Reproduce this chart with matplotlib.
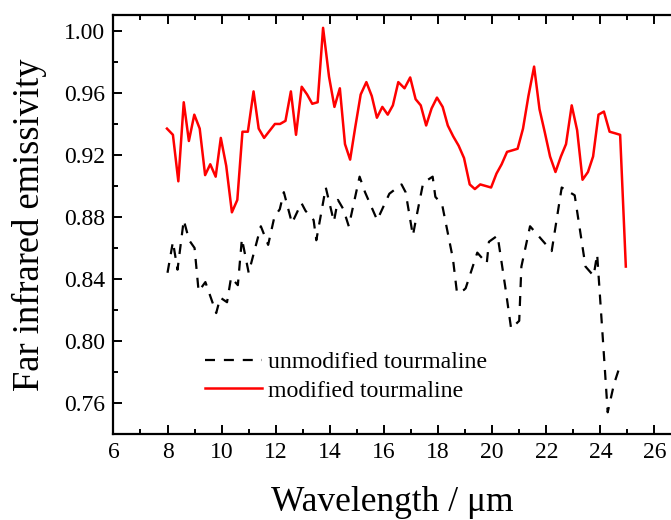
import matplotlib
matplotlib.use("Agg")
import matplotlib.pyplot as plt
from matplotlib.ticker import MultipleLocator, FormatStrFormatter

plt.rcParams['font.family'] = ['Liberation Serif', 'DejaVu Serif']

# modified tourmaline (red solid)
mod_x = [7.98, 8.20, 8.40, 8.60, 8.79, 8.99, 9.19, 9.39, 9.58, 9.78, 9.97, 10.17,
         10.38, 10.58, 10.77, 10.97, 11.18, 11.37, 11.57, 11.77, 11.97, 12.16, 12.36,
         12.56, 12.75, 12.96, 13.16, 13.35, 13.55, 13.75, 13.97, 14.17, 14.37, 14.56,
         14.75, 14.94, 15.14, 15.35, 15.55, 15.74, 15.94, 16.14, 16.33, 16.53, 16.76,
         16.97, 17.17, 17.36, 17.56, 17.76, 17.96, 18.17, 18.36, 18.56, 18.76, 18.96,
         19.17, 19.36, 19.56, 19.76, 19.96, 20.16, 20.35, 20.55, 20.75, 20.94, 21.14,
         21.34, 21.55, 21.75, 21.94, 22.14, 22.34, 22.54, 22.73, 22.94, 23.14, 23.34,
         23.54, 23.73, 23.93, 24.13, 24.34, 24.54, 24.73, 24.94]
mod_y = [0.937, 0.933, 0.903, 0.954, 0.929, 0.946, 0.937, 0.907, 0.914, 0.906, 0.931, 0.913,
         0.883, 0.891, 0.935, 0.935, 0.961, 0.937, 0.931, 0.9355, 0.940, 0.940, 0.942,
         0.961, 0.933, 0.964, 0.959, 0.953, 0.954, 1.002, 0.9705, 0.951, 0.963, 0.927,
         0.917, 0.938, 0.959, 0.967, 0.958, 0.944, 0.951, 0.946, 0.952, 0.967, 0.963,
         0.970, 0.956, 0.952, 0.939, 0.950, 0.957, 0.951, 0.939, 0.932, 0.926, 0.918,
         0.901, 0.898, 0.901, 0.900, 0.899, 0.908, 0.914, 0.922, 0.923, 0.924, 0.937,
         0.958, 0.977, 0.9495, 0.935, 0.919, 0.909, 0.919, 0.927, 0.952, 0.936, 0.904,
         0.909, 0.919, 0.946, 0.948, 0.935, 0.934, 0.933, 0.848]

# unmodified tourmaline (black dashed)
unmod_x = [8.0, 8.2, 8.37, 8.6, 8.8, 9.0, 9.15, 9.4, 9.6, 9.8, 9.95, 10.2, 10.35, 10.6,
           10.75, 11.0, 11.45, 11.72, 11.95, 12.15, 12.3, 12.6, 12.95, 13.1, 13.4, 13.5,
           13.85, 14.15, 14.3, 14.5, 14.7, 15.1, 15.3, 15.5, 15.75, 16.2, 16.65, 16.8,
           17.07, 17.2, 17.45, 17.8, 17.9, 18.15, 18.55, 18.7, 18.96, 19.02, 19.45, 19.8,
           19.88, 20.2, 20.5, 20.7, 21.0, 21.08, 21.4, 21.8, 22.2, 22.57, 23.05, 23.45,
           23.75, 23.88, 24.1, 24.27, 24.5, 24.76]
unmod_y = [0.844, 0.864, 0.846, 0.878, 0.865, 0.860, 0.832, 0.838, 0.828, 0.818, 0.828,
           0.825, 0.841, 0.836, 0.866, 0.844, 0.874, 0.862, 0.880, 0.885, 0.896, 0.876,
           0.889, 0.884, 0.878, 0.865, 0.899, 0.877, 0.891, 0.885, 0.874, 0.906, 0.896,
           0.888, 0.878, 0.895, 0.901, 0.896, 0.868, 0.880, 0.902, 0.906, 0.893, 0.888,
           0.853, 0.831, 0.833, 0.834, 0.857, 0.850, 0.864, 0.868, 0.833, 0.808, 0.813,
           0.848, 0.874, 0.866, 0.858, 0.899, 0.894, 0.848, 0.842, 0.856, 0.799, 0.754,
           0.772, 0.786]

x_ticks = [6, 8, 10, 12, 14, 16, 18, 20, 22, 24, 26]
y_ticks = [0.76, 0.80, 0.84, 0.88, 0.92, 0.96, 1.00]

fig = plt.figure(figsize=(6.71, 5.20), dpi=100)
ax = fig.add_axes([0.169, 0.1654, 0.831, 0.8058])

ax.plot(unmod_x, unmod_y, color='black', lw=1.6, dashes=(4.5, 4.0),
        label='unmodified tourmaline')
ax.plot(mod_x, mod_y, color='#ff0000', lw=1.8, label='modified tourmaline')

ax.set_xlim(6, 26.61)
ax.set_ylim(0.74, 1.0103)
ax.set_xticks(x_ticks)
ax.set_yticks(y_ticks)
ax.xaxis.set_minor_locator(MultipleLocator(1))
ax.yaxis.set_minor_locator(MultipleLocator(0.02))
ax.yaxis.set_major_formatter(FormatStrFormatter('%.2f'))

ax.spines['right'].set_visible(False)
for s in ['left', 'bottom', 'top']:
    ax.spines[s].set_linewidth(1.6)

ax.tick_params(which='both', direction='in', top=True, right=False, width=1.4)
ax.tick_params(which='major', length=6.5, labelsize=17, pad=6)
ax.tick_params(which='minor', length=3.5)

ax.set_xlabel('Wavelength / μm', fontsize=25.5, labelpad=16)
ax.set_ylabel('Far infrared emissivity', fontsize=26.3, labelpad=12)

leg = ax.legend(loc='center left', bbox_to_anchor=(0.164, 0.1372), frameon=False,
                fontsize=17.2, handlelength=2.38, handletextpad=0.25, labelspacing=0.3,
                borderpad=0, borderaxespad=0)

fig.savefig('out.png', dpi=100)
